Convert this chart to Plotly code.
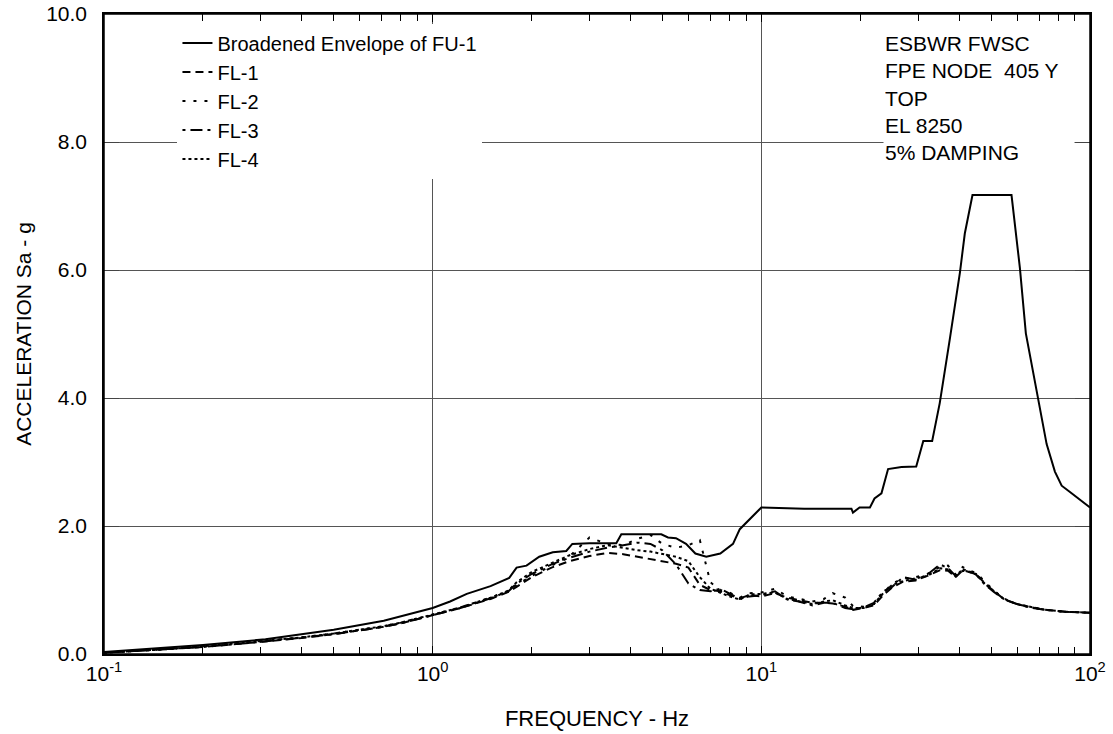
import plotly.graph_objects as go

# broadened envelope of FU-1
env_freq = [0.1, 0.2, 0.31, 0.5, 0.71, 1.0, 1.13, 1.27, 1.5, 1.71, 1.8, 1.93, 2.11, 2.32, 2.55, 2.66,
            3.0, 3.62, 3.75, 4.96, 5.2, 5.5, 5.9, 6.3, 6.8, 7.5, 8.2, 8.6, 10, 13.2, 13.5, 18.8, 19.0,
            19.9, 21.4, 22.1, 23.2, 24.3, 26.7, 29.6, 31.1, 33.1, 34.9, 37.5, 40.2, 41.6, 43.9, 57.7,
            61.2, 63.8, 68.8, 73.8, 78.2, 82, 86.9, 100]
env_accel = [0.03, 0.14, 0.23, 0.38, 0.52, 0.72, 0.82, 0.94, 1.06, 1.19, 1.35, 1.38, 1.52, 1.59, 1.61,
             1.72, 1.73, 1.73, 1.87, 1.87, 1.82, 1.81, 1.72, 1.57, 1.52, 1.57, 1.72, 1.95, 2.29, 2.28,
             2.27, 2.27, 2.21, 2.29, 2.29, 2.43, 2.51, 2.89, 2.92, 2.93, 3.33, 3.33, 3.92, 4.94, 5.96,
             6.57, 7.17, 7.17, 6.03, 5.01, 4.13, 3.28, 2.85, 2.63, 2.53, 2.29]

# FL-1..FL-4 spectra (common frequency points)
fl_freq = [0.1, 0.15, 0.2, 0.3, 0.4, 0.5, 0.6, 0.7, 0.8, 1.0, 1.2, 1.5, 1.7, 1.8, 2.0, 2.3, 2.6, 3.0,
           3.4, 3.8, 4.2, 4.6, 5.0, 5.5, 6.0, 6.5, 7.0, 7.5, 8.0, 8.6, 9.2, 10, 11, 12, 13, 14.3, 15.5,
           16.5, 18, 19, 20.5, 22, 23.5, 25, 27, 29.5, 32, 35, 37, 39, 41, 43, 45, 48, 51, 55, 60, 65,
           73, 84, 100]
fl1 = [0.02, 0.07, 0.11, 0.19, 0.25, 0.31, 0.37, 0.42, 0.48, 0.60, 0.71, 0.86, 0.97, 1.05, 1.20, 1.35,
       1.45, 1.53, 1.58, 1.56, 1.52, 1.48, 1.45, 1.41, 1.35, 1.08, 1.00, 0.98, 0.92, 0.87, 0.92, 0.90,
       0.95, 0.88, 0.84, 0.80, 0.80, 0.79, 0.74, 0.69, 0.72, 0.76, 0.92, 1.04, 1.13, 1.15, 1.22, 1.31,
       1.30, 1.20, 1.31, 1.28, 1.25, 1.10, 0.98, 0.85, 0.78, 0.74, 0.69, 0.66, 0.645]
fl2 = [0.02, 0.07, 0.12, 0.20, 0.26, 0.32, 0.38, 0.43, 0.49, 0.61, 0.72, 0.88, 0.98, 1.08, 1.22, 1.38,
       1.52, 1.82, 1.72, 1.70, 1.80, 1.86, 1.72, 1.66, 1.70, 1.78, 1.12, 1.00, 0.96, 0.88, 0.95, 0.96,
       1.02, 0.90, 0.86, 0.82, 0.86, 0.95, 0.88, 0.75, 0.74, 0.78, 0.95, 1.10, 1.18, 1.20, 1.25, 1.36,
       1.38, 1.24, 1.36, 1.30, 1.27, 1.12, 0.99, 0.86, 0.78, 0.74, 0.69, 0.66, 0.645]
fl3 = [0.02, 0.07, 0.11, 0.19, 0.26, 0.31, 0.37, 0.42, 0.48, 0.60, 0.71, 0.87, 0.98, 1.10, 1.25, 1.40,
       1.50, 1.60, 1.66, 1.70, 1.74, 1.72, 1.62, 1.40, 1.10, 1.00, 0.98, 1.02, 0.95, 0.86, 0.90, 0.92,
       0.98, 0.85, 0.82, 0.76, 0.80, 0.80, 0.72, 0.70, 0.73, 0.80, 0.98, 1.05, 1.20, 1.16, 1.24, 1.40,
       1.34, 1.22, 1.30, 1.29, 1.24, 1.08, 0.97, 0.85, 0.78, 0.73, 0.69, 0.66, 0.645]
fl4 = [0.02, 0.07, 0.12, 0.20, 0.26, 0.32, 0.38, 0.43, 0.49, 0.61, 0.72, 0.88, 0.99, 1.12, 1.28, 1.42,
       1.54, 1.64, 1.70, 1.66, 1.62, 1.60, 1.56, 1.52, 1.45, 1.20, 1.02, 0.96, 0.90, 0.85, 0.93, 0.94,
       0.96, 0.86, 0.82, 0.78, 0.82, 0.84, 0.76, 0.72, 0.72, 0.78, 0.95, 1.08, 1.14, 1.18, 1.22, 1.34,
       1.32, 1.21, 1.33, 1.28, 1.25, 1.09, 0.98, 0.85, 0.78, 0.74, 0.69, 0.66, 0.645]

x_ticks = [0.1, 1, 10, 100]
x_ticktext = ['10<sup>-1</sup>', '10<sup>0</sup>', '10<sup>1</sup>', '10<sup>2</sup>']
info_lines = ['ESBWR FWSC', 'FPE NODE&nbsp; 405 Y', 'TOP', 'EL 8250', '5% DAMPING']

FONT = 'Liberation Sans, Arial, sans-serif'

fig = go.Figure()
fig.add_trace(go.Scatter(x=env_freq, y=env_accel, mode='lines', name='Broadened Envelope of FU-1',
                         line=dict(color='black', width=2)))
styles = [('FL-1', fl1, '8px,5px'), ('FL-2', fl2, '3px,8px'),
          ('FL-3', fl3, '3px,5px,12px,5px'), ('FL-4', fl4, '3px,3px')]
for name, vals, dash in styles:
    fig.add_trace(go.Scatter(x=fl_freq, y=vals, mode='lines', name=name,
                             line=dict(color='black', width=2, dash=dash)))

fig.add_annotation(text='<br>'.join(info_lines), xref='paper', yref='paper', x=0.79, y=0.975,
                   xanchor='left', yanchor='top', align='left', showarrow=False, width=188,
                   bgcolor='white', borderpad=1, font=dict(size=21, color='black', family=FONT))

# plot frame
fig.add_shape(type='rect', xref='paper', yref='paper', x0=0, x1=1, y0=0, y1=1,
              line=dict(color='black', width=1.5), layer='above')

fig.update_xaxes(type='log', range=[-1, 2], tickmode='array', tickvals=x_ticks, ticktext=x_ticktext,
                 ticks='inside', ticklen=8, tickcolor='black', showgrid=True, gridcolor='#555555',
                 gridwidth=1, showline=True, linecolor='black', linewidth=1.5, mirror='ticks',
                 minor=dict(ticks='inside', ticklen=7, dtick='D1', tickcolor='black', showgrid=False),
                 tickfont=dict(size=21), automargin=False, ticklabeloverflow='allow',
                 title=dict(text='FREQUENCY - Hz', standoff=27, font=dict(size=22)), zeroline=False)
fig.update_yaxes(range=[0, 10], dtick=2, tickformat='.1f', ticks='inside', ticklen=15,
                 tickcolor='#444444', showgrid=True, gridcolor='#555555', gridwidth=1,
                 showline=True, linecolor='black', linewidth=1.5, mirror='ticks',
                 tickfont=dict(size=21), ticklabelstandoff=11, automargin=False,
                 ticklabeloverflow='allow',
                 title=dict(text='ACCELERATION Sa - g', standoff=9, font=dict(size=21)),
                 zeroline=False)

fig.update_layout(width=1113, height=734, margin=dict(l=104, r=23, t=14, b=80, autoexpand=False),
                  plot_bgcolor='white', paper_bgcolor='white',
                  font=dict(family=FONT, size=21, color='black'),
                  legend=dict(x=0.0745, y=0.985, xanchor='left', yanchor='top', bgcolor='white',
                              tracegroupgap=0, font=dict(size=20)),
                  showlegend=True)

# drop the default body margin so the figure sits at the page origin
fig.write_html("out.html", config={'displayModeBar': False},
               post_script="document.body.style.margin = '0';")
